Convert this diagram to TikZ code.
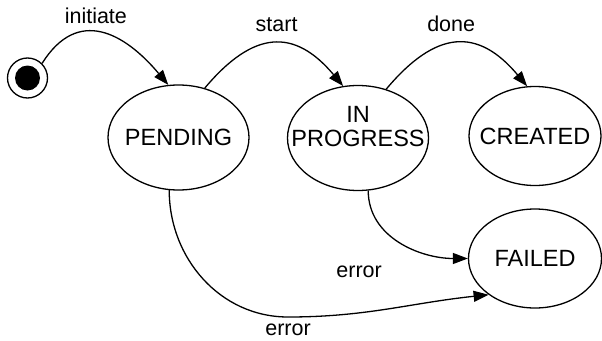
\documentclass[tikz,border=0pt]{standalone}
\usepackage{fontspec}
\setmainfont{Liberation Sans}
\usetikzlibrary{arrows.meta,shapes.geometric,positioning}

\newcommand{\ctr}[1]{\makebox[0pt]{#1}}

\begin{document}
\begin{tikzpicture}[x=1pt,y=1pt,
  state/.style={ellipse,draw,line width=1.3pt,inner sep=0pt,minimum width=141pt,minimum height=105pt,font=\fontsize{23.5}{24}\selectfont},
  statetext/.style={inner sep=0pt,align=center,font=\fontsize{23.5}{24}\selectfont},
  trans/.style={line width=1.3pt,-{Triangle[length=15pt,width=11pt]}},
  lbl/.style={inner sep=1pt,font=\fontsize{21.5}{24}\selectfont}]
\useasboundingbox (0,0) rectangle (602,-340);
\node[circle,draw,line width=1.3pt,minimum size=40pt,inner sep=0pt] (init) at (27.5,-78) {};
\fill (init.center) circle (12.5pt);
\node[state] (pending) at (178.5,-137.5) {\ctr{PENDING}};
\node[state] (progress) at (358,-138) {};
\node[statetext] (progresstext) at (358,-126.75) {IN\\PROGRESS};
\node[state,minimum width=132pt,minimum height=99pt] (created) at (535,-136) {\ctr{CREATED}};
\node[state,minimum width=133pt,minimum height=99pt] (failed) at (535,-258.5) {\ctr{FAILED}};
\coordinate (errbend) at (288,-317);
% transitions
\draw[trans] (init.45) to[out=58,in=130,looseness=1.35] node[lbl,above=7pt,pos=0.45] (initiatelbl) {initiate} (pending.101);
\draw[trans] (pending.62) to[out=50,in=130,looseness=1.4] node[lbl,above=10pt,pos=0.52] (startlbl) {start} (progress.106);
\draw[trans] (progress.60) to[out=50,in=130,looseness=1.4] node[lbl,above=10pt,pos=0.46] (donelbl) {done} (created.99);
\draw[trans] (progress.281) to[out=-90,in=180] node[lbl,anchor=north east,pos=0.6,xshift=-29pt,yshift=-16pt] (errorlbla) {error} (failed.west);
\draw[trans] (pending.260) to[out=-90,in=180] (errbend) to[out=0,in=186] node[lbl,below=5pt,pos=0] (errorlblb) {error} (failed.218);
\end{tikzpicture}
\end{document}
